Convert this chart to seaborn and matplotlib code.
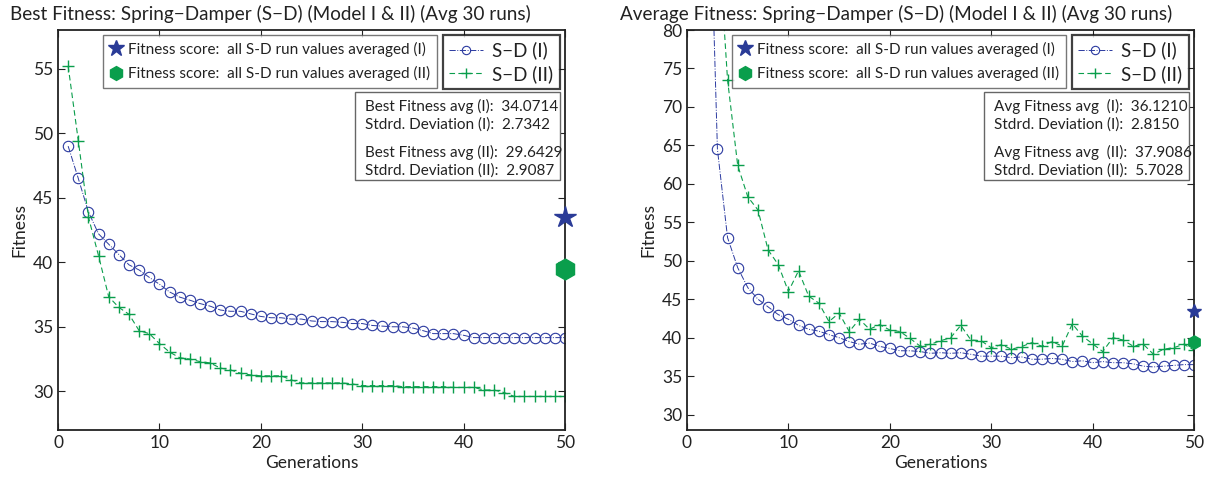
import numpy as np
import matplotlib
matplotlib.use("Agg")
import matplotlib.pyplot as plt
import seaborn as sns
from matplotlib.lines import Line2D
from matplotlib.patches import Rectangle

# ---------------- data ----------------
generations = list(range(1, 51))

best_I = [49.0, 46.5, 43.9, 42.2, 41.4, 40.6, 39.8, 39.4, 38.83, 38.3,
          37.7, 37.3, 37.06, 36.8, 36.6, 36.3, 36.2, 36.2, 36.0, 35.8,
          35.7, 35.7, 35.6, 35.6, 35.45, 35.4, 35.4, 35.35, 35.25, 35.25,
          35.1, 35.05, 35.0, 35.0, 34.9, 34.7, 34.47, 34.47, 34.47, 34.34,
          34.16, 34.16, 34.16, 34.16, 34.16, 34.16, 34.16, 34.16, 34.16, 34.16]
best_II = [55.2, 49.43, 43.5, 40.5, 37.33, 36.5, 35.97, 34.7, 34.47, 33.7,
           33.04, 32.6, 32.5, 32.3, 32.2, 31.8, 31.66, 31.4, 31.27, 31.2,
           31.2, 31.2, 30.88, 30.65, 30.65, 30.65, 30.65, 30.65, 30.57, 30.44,
           30.44, 30.44, 30.44, 30.36, 30.36, 30.36, 30.36, 30.36, 30.3, 30.3,
           30.3, 30.1, 30.1, 29.9, 29.6, 29.6, 29.6, 29.6, 29.6, 29.6]

avg_I = [180.0, 110.0, 64.5, 53.0, 49.1, 46.5, 45.0, 44.0, 43.0, 42.4,
         41.6, 41.1, 40.85, 40.4, 40.0, 39.5, 39.15, 39.3, 38.87, 38.6,
         38.3, 38.3, 38.2, 37.97, 38.05, 37.97, 38.05, 37.84, 37.6, 37.6,
         37.6, 37.4, 37.5, 37.2, 37.2, 37.3, 37.2, 36.9, 37.0, 36.75,
         36.9, 36.75, 36.75, 36.6, 36.3, 36.2, 36.3, 36.4, 36.5, 36.5]
avg_II = [130.0, 110.0, 94.0, 73.5, 62.4, 58.3, 56.6, 51.4, 49.5, 46.0,
          48.7, 45.4, 44.5, 42.1, 43.2, 40.8, 42.4, 41.1, 41.7, 41.0,
          40.8, 39.9, 38.9, 39.15, 39.6, 40.0, 41.6, 39.7, 39.6, 38.7,
          39.1, 38.5, 38.85, 39.35, 38.9, 39.5, 38.9, 41.8, 40.2, 39.2,
          38.2, 40.0, 39.7, 38.9, 39.15, 37.85, 38.5, 38.7, 39.15, 38.4]

best_summary = [43.5, 39.5]   # star (I), hexagon (II) at generation 50
avg_summary = [43.5, 39.4]

best_stats = [("Best Fitness avg (I):", "34.0714"), ("Stdrd. Deviation (I):", "2.7342"),
              ("Best Fitness avg (II):", "29.6429"), ("Stdrd. Deviation (II):", "2.9087")]
avg_stats = [("Avg Fitness avg  (I):", "36.1210"), ("Stdrd. Deviation (I):", "2.8150"),
             ("Avg Fitness avg  (II):", "37.9086"), ("Stdrd. Deviation (II):", "5.7028")]

titles = ["Best Fitness: Spring\u2212Damper (S\u2212D) (Model I & II) (Avg 30 runs)",
          "Average Fitness: Spring\u2212Damper (S\u2212D) (Model I & II) (Avg 30 runs)"]
legend_summary = ["Fitness score:  all S-D run values averaged (I)",
                  "Fitness score:  all S-D run values averaged (II)"]
legend_series = ["S\u2212D (I)", "S\u2212D (II)"]

# ---------------- style ----------------
sns.set_style("ticks")
plt.rcParams['font.family'] = ['Lato', 'DejaVu Sans']
plt.rcParams['axes.unicode_minus'] = True

BLUE = "#2b3aa0"
GREEN = "#0a9e4c"
STAR_BLUE = "#2a3b97"
TXT = "#222222"

fig = plt.figure(figsize=(12.13, 4.79), dpi=100)
ax1 = fig.add_axes([58/1213, 1-430/479, 507/1213, 400/479])
ax2 = fig.add_axes([687/1213, 1-430/479, 507/1213, 400/479])

configs = [
    (ax1, best_I, best_II, best_summary, best_stats, (27, 58), [30, 35, 40, 45, 50, 55], 16, 15, 10),
    (ax2, avg_I, avg_II, avg_summary, avg_stats, (28, 80), [30, 35, 40, 45, 50, 55, 60, 65, 70, 75, 80], 10, 9.5, 620),
]

for i, (ax, sI, sII, summ, stats, ylim, yticks, star_ms, hex_ms, title_px) in enumerate(configs):
    sns.lineplot(x=generations, y=sI, ax=ax, color=BLUE, linestyle='-.', linewidth=0.7,
                 marker='o', markersize=7.5, markerfacecolor='none', markeredgecolor=BLUE,
                 markeredgewidth=0.8)
    sns.lineplot(x=generations, y=sII, ax=ax, color=GREEN, linestyle=(0, (5, 3)), linewidth=0.8,
                 marker='+', markersize=8, markeredgecolor=GREEN, markeredgewidth=1.0)
    ax.plot([50], [summ[0]], marker='*', markersize=star_ms, color=STAR_BLUE,
            linestyle='none', clip_on=False, zorder=5)
    ax.plot([50], [summ[1]], marker='h', markersize=hex_ms, color=GREEN,
            linestyle='none', clip_on=False, zorder=5)

    ax.set_xlim(0, 50)
    ax.set_ylim(*ylim)
    ax.set_xticks([0, 10, 20, 30, 40, 50])
    ax.set_yticks(yticks)
    ax.tick_params(direction='in', top=True, right=True, labelsize=12.5, length=5,
                   width=0.8, colors=TXT, labelcolor=TXT)
    for sp in ax.spines.values():
        sp.set_visible(True)
        sp.set_linewidth(1.3)
        sp.set_color(TXT)
    ax.set_xlabel("Generations", fontsize=12.5, labelpad=3, color=TXT)
    ax.set_ylabel("Fitness", fontsize=12.5, labelpad=4, color=TXT)
    fig.text(title_px/1213, 1-14/479, titles[i], fontsize=13.6, ha='left', va='center', color=TXT)

    # summary legend
    h1 = [Line2D([], [], marker='*', color=STAR_BLUE, linestyle='none', markersize=12),
          Line2D([], [], marker='h', color=GREEN, linestyle='none', markersize=10)]
    leg1 = ax.legend(h1, legend_summary, loc='upper right', bbox_to_anchor=(0.748, 0.988),
                     fontsize=11, frameon=True, fancybox=False, handlelength=0.8,
                     handletextpad=0.4, borderpad=0.45, labelspacing=0.6, borderaxespad=0,
                     labelcolor=TXT)
    leg1.get_frame().set_edgecolor('#555555')
    leg1.get_frame().set_linewidth(1.0)
    ax.add_artist(leg1)

    h2 = [Line2D([], [], color=BLUE, linestyle='-.', linewidth=0.7, marker='o', markersize=6,
                 markerfacecolor='none', markeredgewidth=0.8),
          Line2D([], [], color=GREEN, linestyle=(0, (5, 3)), linewidth=0.8, marker='+', markersize=7,
                 markeredgewidth=1.0)]
    leg2 = ax.legend(h2, legend_series, loc='upper right', bbox_to_anchor=(0.99, 0.988),
                     fontsize=13.5, frameon=True, fancybox=False, handlelength=1.8,
                     handletextpad=0.5, borderpad=0.35, labelspacing=0.3, borderaxespad=0,
                     labelcolor=TXT)
    leg2.get_frame().set_edgecolor('#111111')
    leg2.get_frame().set_linewidth(1.6)

    # stats box
    x0, x1 = 0.586, 0.99
    y0, y1 = 0.625, 0.845
    ax.add_patch(Rectangle((x0, y0), x1 - x0, y1 - y0, transform=ax.transAxes,
                           facecolor='white', edgecolor='#666666', linewidth=1.0, zorder=6))
    ys = [0.81, 0.763, 0.695, 0.648]
    for (lab, val), yy in zip(stats, ys):
        ax.text(x0 + 0.02, yy, lab + "  " + val, transform=ax.transAxes, fontsize=11,
                va='center', ha='left', color=TXT, zorder=7)

fig.savefig("out.png", dpi=100)
